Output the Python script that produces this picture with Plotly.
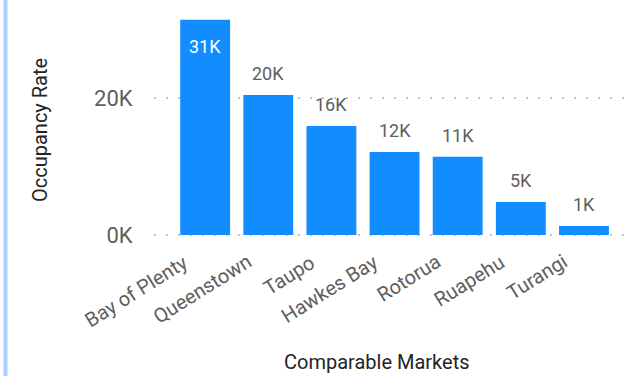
import plotly.graph_objects as go

categories = ["Bay of Plenty", "Queenstown", "Taupo", "Hawkes Bay", "Rotorua", "Ruapehu", "Turangi"]
occupancy = [31400, 20400, 15900, 12100, 11400, 4800, 1300]
ytick_vals = [0, 20000]
ytick_text = ["0K", "20K"]

labels = [f"{round(v/1000)}K" for v in occupancy]

W, H = 633, 376
L, R, T, B = 154, 8, 19, 138
pw, ph = W - L - R, H - T - B
FONT = "Roboto"
YMAX = 31500
YMIN = -YMAX * 3 / 216

fig = go.Figure(go.Bar(
    x=categories, y=occupancy, width=0.79,
    marker=dict(color="#118DFF", line=dict(width=0)),
    hoverinfo="skip",
))

annots = []
for i, (c, v, t) in enumerate(zip(categories, occupancy, labels)):
    if i == 0:
        annots.append(dict(x=c, y=v, text=t, showarrow=False, yanchor="top", yshift=-14,
                           font=dict(size=18, color="white", family=FONT)))
    else:
        annots.append(dict(x=c, y=v, text=t, showarrow=False, yanchor="bottom", yshift=9,
                           font=dict(size=18, color="#605E5C", family=FONT)))
    annots.append(dict(x=c, y=0, text=c, showarrow=False, textangle=-32,
                       xanchor="right", yanchor="top", xshift=-10, yshift=-12,
                       font=dict(size=20, color="#605E5C", family=FONT)))

annots += [
    dict(text="Occupancy Rate", xref="paper", yref="paper",
         x=(40 - L) / pw, y=(H - B - 3 - 127) / ph, textangle=-90,
         showarrow=False, xanchor="center", yanchor="middle",
         font=dict(size=20, color="#252423", family=FONT)),
    dict(text="Comparable Markets", xref="paper", yref="paper",
         x=(377 - L) / pw, y=(H - B - 362) / ph,
         showarrow=False, xanchor="center", yanchor="middle",
         font=dict(size=20, color="#252423", family=FONT)),
]

fig.update_layout(
    width=W, height=H, margin=dict(l=L, r=R, t=T, b=B),
    paper_bgcolor="white", plot_bgcolor="white", showlegend=False,
    font=dict(family=FONT, color="#605E5C"),
    xaxis=dict(range=[-0.81, 6.65], showticklabels=False,
               showgrid=False, zeroline=False, showline=False, ticks=""),
    yaxis=dict(range=[YMIN, YMAX], tickvals=ytick_vals, ticktext=ytick_text,
               tickfont=dict(size=22, color="#605E5C"),
               showgrid=True, gridcolor="#C8C6C4", griddash="2px,10px", gridwidth=2,
               zeroline=False, showline=False, ticks="outside", ticklen=16,
               tickcolor="rgba(0,0,0,0)"),
    annotations=annots,
    shapes=[dict(type="line", xref="paper", yref="paper",
                 x0=(5.5 - L) / pw, x1=(5.5 - L) / pw,
                 y0=(H - B) / ph, y1=(H - B - 376) / ph,
                 line=dict(color="#A9D1FF", width=4))],
)

fig.write_html("out.html", config={"displayModeBar": False},
               post_script="document.body.style.margin='0';document.body.style.overflow='hidden';")
